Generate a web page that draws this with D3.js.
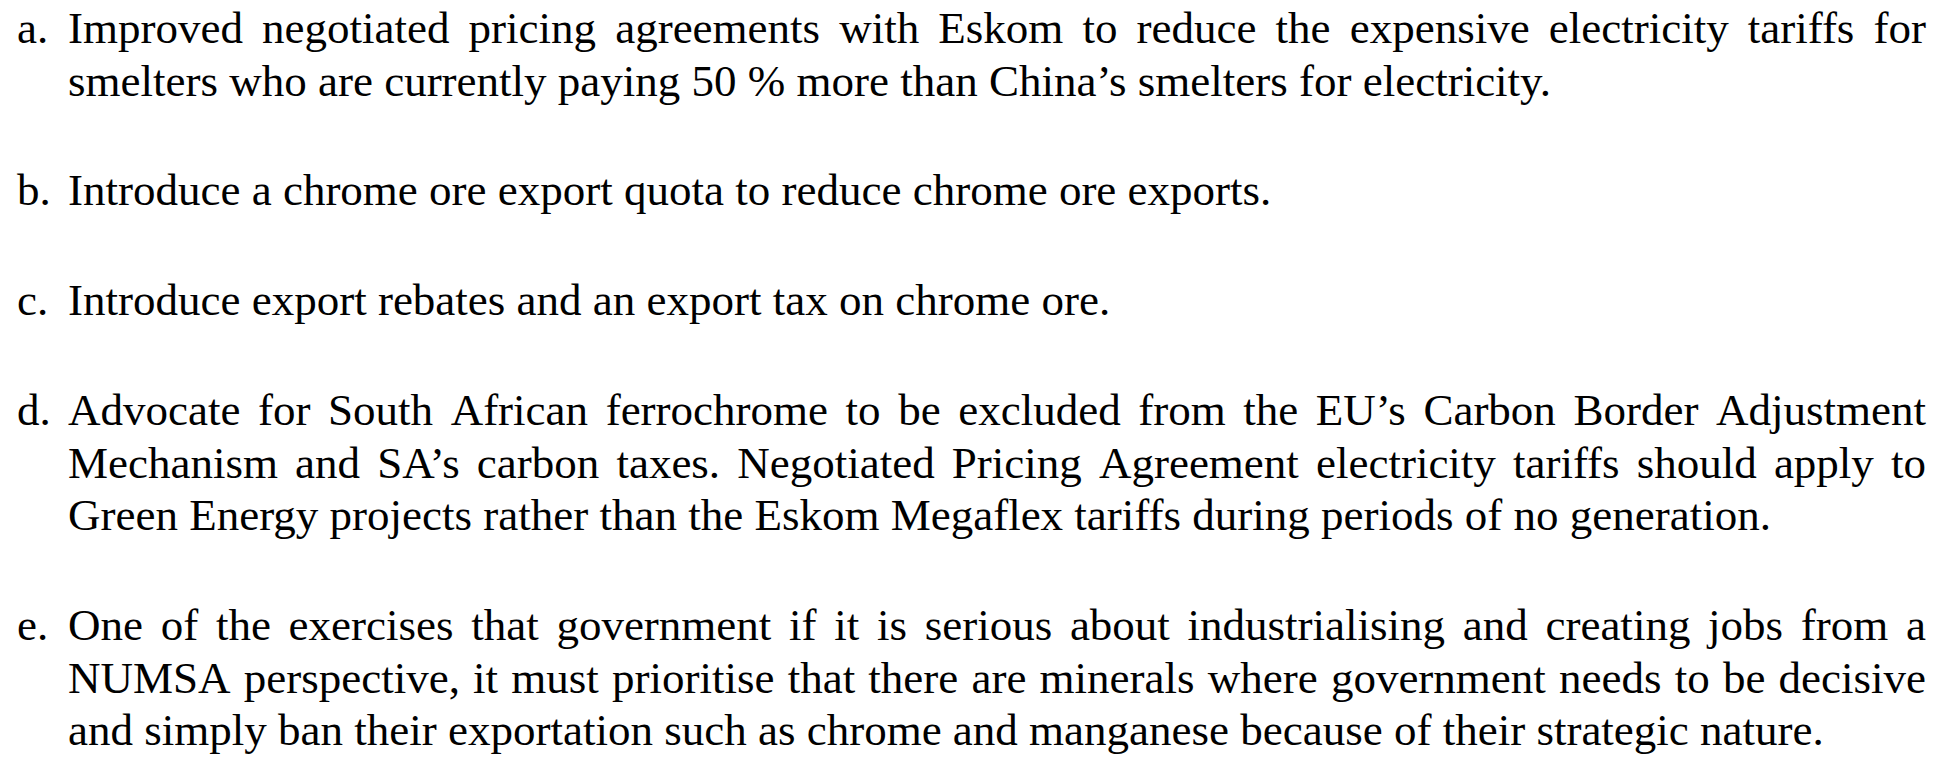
<!DOCTYPE html>
<html>
<head>
<meta charset="utf-8">
<script src="https://cdn.jsdelivr.net/npm/d3@7"></script>
<style>
  html, body { margin: 0; padding: 0; background: #fff; }
  svg { display: block; }
</style>
</head>
<body>
<div id="vis"></div>
<script>
// list labels and the text of each item, one entry per printed line
const itemLabels = ['a.', 'b.', 'c.', 'd.', 'e.'];
const itemLines = [
    ['Improved negotiated pricing agreements with Eskom to reduce the expensive electricity tariffs for',
     'smelters who are currently paying 50 % more than China\u2019s smelters for electricity.'],
    ['Introduce a chrome ore export quota to reduce chrome ore exports.'],
    ['Introduce export rebates and an export tax on chrome ore.'],
    ['Advocate for South African ferrochrome to be excluded from the EU\u2019s Carbon Border Adjustment',
     'Mechanism and SA\u2019s carbon taxes. Negotiated Pricing Agreement electricity tariffs should apply to',
     'Green Energy projects rather than the Eskom Megaflex tariffs during periods of no generation.'],
    ['One of the exercises that government if it is serious about industrialising and creating jobs from a',
     'NUMSA perspective, it must prioritise that there are minerals where government needs to be decisive',
     'and simply ban their exportation such as chrome and manganese because of their strategic nature.']
];

const width = 1955, height = 757;
const labelX = 17, textX = 68, rightX = 1926;
const fontSize = 45;
const paraGap = 2.095; // in line units, last line of one item to first line of the next

// flatten into rows with a (fractional) row index
const rows = [];
let r = 0;
itemLines.forEach((lines, i) => {
    lines.forEach((t, j) => {
        rows.push({
            item: i,
            label: j === 0 ? itemLabels[i] : null,
            text: t,
            row: r,
            justify: j < lines.length - 1
        });
        r += 1;
    });
    r += paraGap - 1;
});

const y = d3.scaleLinear().domain([0, 1]).range([43, 95.5]);

const svg = d3.select('#vis')
    .append('svg')
    .attr('width', width)
    .attr('height', height)
    .style('background', '#fff')
    .style('font-family', '"Liberation Serif", "Times New Roman", Times, serif')
    .style('font-size', fontSize + 'px')
    .attr('fill', '#000');

// labels a. b. c. ...
svg.selectAll('text.label')
    .data(rows.filter(d => d.label))
    .join('text')
    .attr('class', 'label')
    .attr('x', labelX)
    .attr('y', d => y(d.row))
    .text(d => d.label);

// body lines
const lineG = svg.selectAll('text.line')
    .data(rows)
    .join('text')
    .attr('class', 'line')
    .attr('y', d => y(d.row));

lineG.each(function(d) {
    const t = d3.select(this);
    const words = d.text.split(' ');
    const spans = t.selectAll('tspan')
        .data(words)
        .join('tspan')
        .text(w => w);
    // measure each word, then lay them out
    const widths = [];
    spans.each(function() { widths.push(this.getComputedTextLength()); });
    const total = d3.sum(widths);
    let gap = fontSize * 0.25;
    if (d.justify && words.length > 1) {
        gap = (rightX - textX - total) / (words.length - 1);
    }
    let x = textX;
    spans.attr('x', (w, i) => {
        const px = x;
        x += widths[i] + gap;
        return px;
    });
});
</script>
</body>
</html>
